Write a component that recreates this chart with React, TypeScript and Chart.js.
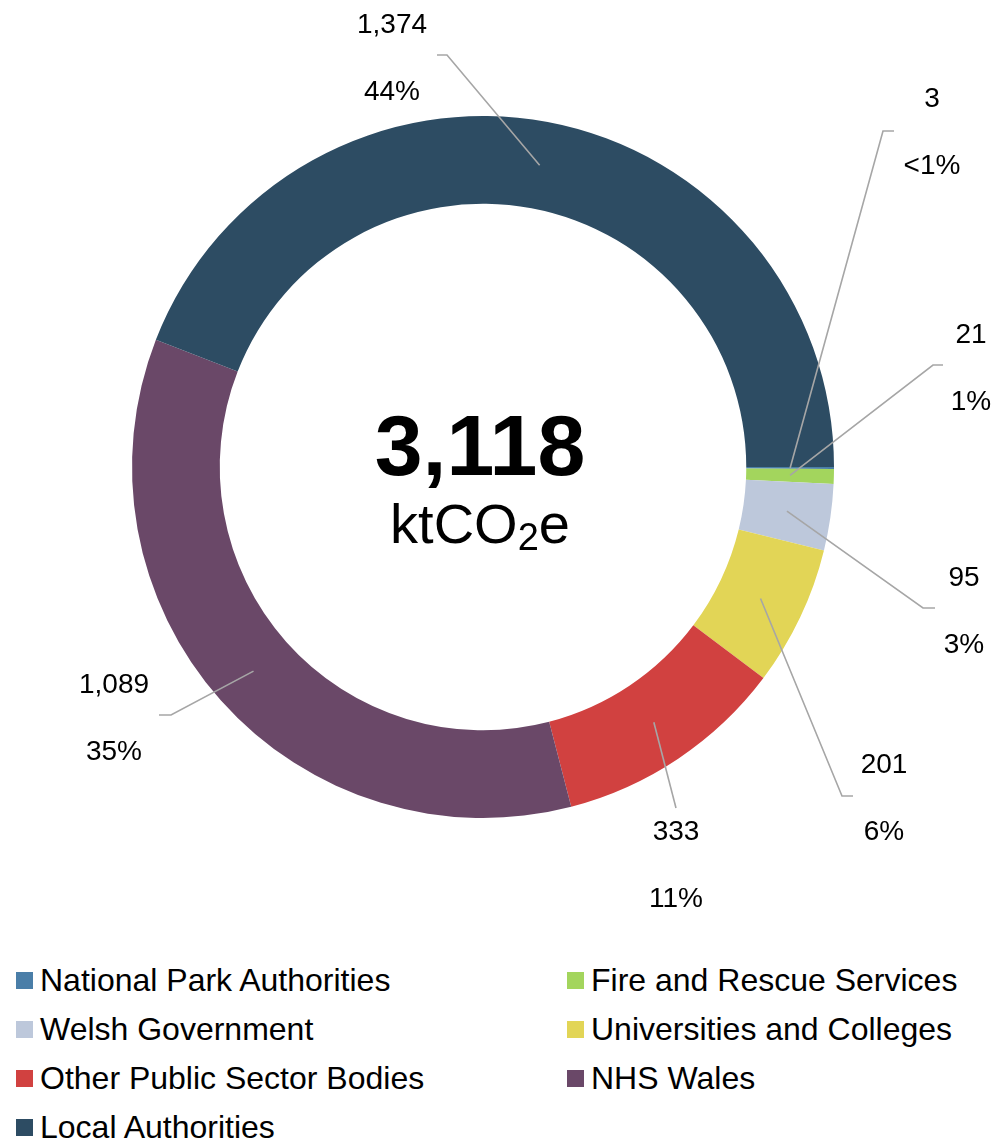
import React, { useEffect, useRef } from "react";
import { Chart, registerables } from "chart.js";

Chart.register(...registerables);

const CATEGORIES = [
  "National Park Authorities",
  "Fire and Rescue Services",
  "Welsh Government",
  "Universities and Colleges",
  "Other Public Sector Bodies",
  "NHS Wales",
  "Local Authorities",
];
const VALUES = [3, 21, 95, 201, 333, 1089, 1374];
const TOTAL_LABEL = 3118;
const UNIT_MAIN = "ktCO";
const UNIT_SUB = "2";
const UNIT_END = "e";
const COLORS = ["#4a7ea8", "#a3d55d", "#bdc8db", "#e2d556", "#d14140", "#6a4868", "#2d4c63"];

// label layout, offsets from chart centre (value text centre, leader elbow, leader end)
const LABEL_VALUE_POS = [
  [449, -370], [488, -134], [481, 109], [401, 296], [193, 363], [-369, 216], [-91, -444],
];
const LEADER_ELBOW = [
  [400, -336], [450, -102], [440, 141], [359, 329], [193, 341], [-312, 248], [-36, -412],
];
const LEADER_END = [
  [411, -336], [460, -102], [452, 141], [370, 329], [193, 341], [-324, 248], [-46, -412],
];

const FONT = "'Liberation Sans', Arial, sans-serif";

function fmt(n: number) {
  return n.toLocaleString("en-GB");
}
function pctLabel(v: number, total: number) {
  const p = (v / total) * 100;
  if (p < 0.5) return "<1%";
  return Math.round(p) + "%";
}

const labelsPlugin = {
  id: "customLabels",
  afterDraw(chart: any) {
    const ctx = chart.ctx;
    const meta = chart.getDatasetMeta(0);
    const area = chart.chartArea;
    const cx = (area.left + area.right) / 2;
    const cy = (area.top + area.bottom) / 2;
    const data = chart.data.datasets[0].data as number[];
    const total = data.reduce((a, b) => a + b, 0);
    ctx.save();
    // leader lines
    ctx.strokeStyle = "#a6a6a6";
    ctx.lineWidth = 1.6;
    meta.data.forEach((arc: any, i: number) => {
      const p = arc.getCenterPoint();
      ctx.beginPath();
      ctx.moveTo(p.x, p.y);
      ctx.lineTo(cx + LEADER_ELBOW[i][0], cy + LEADER_ELBOW[i][1]);
      ctx.lineTo(cx + LEADER_END[i][0], cy + LEADER_END[i][1]);
      ctx.stroke();
    });
    // value + pct labels
    ctx.fillStyle = "#000";
    ctx.textAlign = "center";
    ctx.textBaseline = "alphabetic";
    ctx.font = `28px ${FONT}`;
    data.forEach((v, i) => {
      const x = cx + LABEL_VALUE_POS[i][0];
      const y = cy + LABEL_VALUE_POS[i][1];
      ctx.fillText(fmt(v), x, y + 10);
      ctx.fillText(pctLabel(v, total), x, y + 67 + 10);
    });
    // centre text
    const tx = cx - 3;
    ctx.font = `bold 86px ${FONT}`;
    ctx.fillText(fmt(TOTAL_LABEL), tx, cy + 8);
    ctx.textAlign = "left";
    ctx.font = `56px ${FONT}`;
    const w1 = ctx.measureText(UNIT_MAIN).width;
    const w3 = ctx.measureText(UNIT_END).width;
    ctx.font = `38px ${FONT}`;
    const w2 = ctx.measureText(UNIT_SUB).width;
    const start = tx - (w1 + w2 + w3) / 2;
    ctx.font = `56px ${FONT}`;
    ctx.fillText(UNIT_MAIN, start, cy + 76);
    ctx.fillText(UNIT_END, start + w1 + w2, cy + 76);
    ctx.font = `38px ${FONT}`;
    ctx.fillText(UNIT_SUB, start + w1, cy + 83);
    ctx.restore();
  },
};

export default function App() {
  const ref = useRef<HTMLCanvasElement | null>(null);
  useEffect(() => {
    if (!ref.current) return;
    const chart = new Chart(ref.current, {
      type: "doughnut",
      data: {
        labels: CATEGORIES,
        datasets: [
          {
            data: VALUES,
            backgroundColor: COLORS,
            borderWidth: 0,
          },
        ],
      },
      options: {
        animation: false,
        responsive: true,
        maintainAspectRatio: false,
        rotation: 90,
        cutout: "75%",
        layout: { padding: { left: 124, top: 108, right: 160, bottom: 130 } },
        plugins: {
          legend: { display: false },
          tooltip: { enabled: false },
        },
      },
      plugins: [labelsPlugin],
    });
    return () => chart.destroy();
  }, []);

  const legendRows: number[][] = [];
  for (let i = 0; i < CATEGORIES.length; i += 2) {
    legendRows.push(i + 1 < CATEGORIES.length ? [i, i + 1] : [i]);
  }

  return (
    <div style={{ position: "relative", width: 986, height: 1134, fontFamily: FONT, overflow: "hidden" }}>
      <div style={{ position: "absolute", left: 0, top: 0, width: 986, height: 940 }}>
        <canvas ref={ref} />
      </div>
      {legendRows.map((row, r) =>
        row.map((idx, c) => (
          <div
            key={idx}
            style={{
              position: "absolute",
              left: c === 0 ? 8 : 559,
              top: 958 + r * 49,
              height: 28,
              display: "flex",
              alignItems: "center",
              whiteSpace: "nowrap",
              fontSize: 32,
              color: "#000",
              lineHeight: "28px",
            }}
          >
            <span
              style={{
                display: "inline-block",
                width: 17,
                height: 17,
                background: COLORS[idx],
                marginRight: 7,
              }}
            />
            <span>{CATEGORIES[idx]}</span>
          </div>
        ))
      )}
    </div>
  );
}
